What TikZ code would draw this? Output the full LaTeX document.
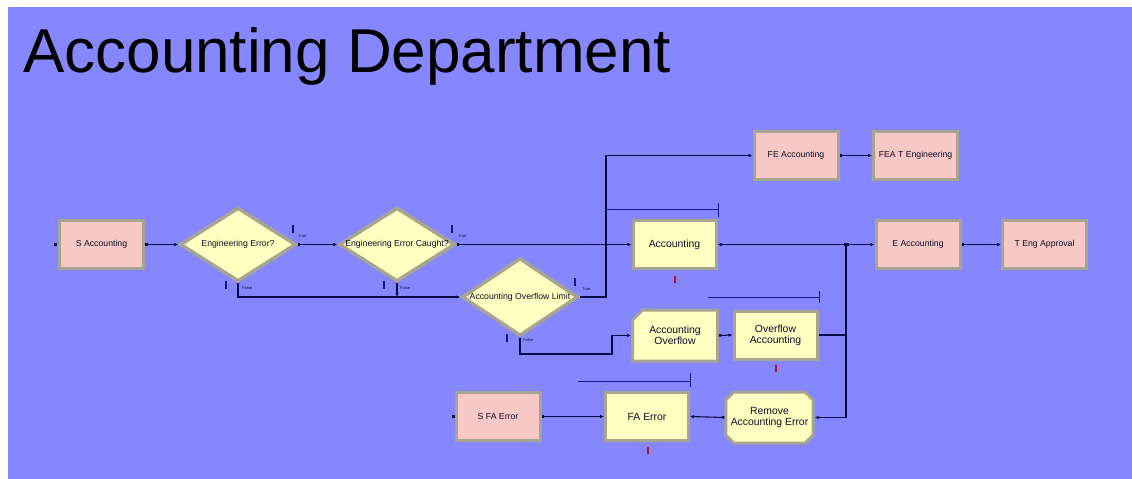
\documentclass[tikz,border=0pt]{standalone}
\usepackage{fontspec}
\setmainfont{Liberation Sans}
\usetikzlibrary{shapes.geometric,shapes.misc,arrows.meta}
\definecolor{bg}{RGB}{134,134,255}
\definecolor{pinkfill}{RGB}{248,200,198}
\definecolor{yelfill}{RGB}{255,255,194}
\definecolor{bordc}{RGB}{165,165,145}
\definecolor{linec}{RGB}{10,10,70}
\definecolor{queuec}{RGB}{20,20,150}
\definecolor{tickc}{RGB}{20,20,120}
\definecolor{redc}{RGB}{170,20,40}
\definecolor{txtc}{RGB}{15,15,35}
\tikzset{
  pinkbox/.style={rectangle, fill=pinkfill, draw=bordc, line width=3pt,
    minimum width=84pt, minimum height=48pt, inner sep=1pt, text=txtc,
    font=\fontsize{8.7}{10}\selectfont},
  yelbox/.style={rectangle, fill=yelfill, draw=bordc, line width=3pt,
    minimum width=83pt, minimum height=48pt, inner sep=1pt, text=txtc, align=center,
    font=\fontsize{10.4}{11}\selectfont},
  dia/.style={diamond, fill=yelfill, draw=bordc, line width=3.5pt, inner sep=0pt,
    minimum width=116pt, minimum height=74pt},
  dtext/.style={text=txtc, inner sep=0pt, font=\fontsize{8.7}{10}\selectfont},
  conn/.style={draw=linec, line width=1.1pt, {Square[length=2.5pt,width=2.5pt]}-{Latex[length=4pt,width=3.5pt]}},
  connf/.style={draw=linec, line width=1.1pt, {Latex[reversed,length=3.5pt,width=3.5pt]}-{Latex[length=4pt,width=3.5pt]}},
  connj/.style={draw=linec, line width=1.1pt, {Square[length=2.5pt,width=2.5pt]}-},
  queue/.style={draw=queuec, line width=1pt},
  tlabel/.style={text=linec, inner sep=0pt, anchor=west, font=\fontsize{4}{4}\selectfont},
}
\newcommand{\bluetick}[2]{\fill[tickc] (#1-1.2,#2-4) rectangle (#1+1.2,#2+4);}
\newcommand{\redtick}[2]{\fill[redc] (#1-1.2,#2-3.5) rectangle (#1+1.2,#2+3.5);}
\begin{document}
\begin{tikzpicture}[x=1pt,y=-1pt]
\useasboundingbox (0,0) rectangle (1132,479);
\fill[white] (0,0) rectangle (1132,479);
\fill[bg] (8,7) rectangle (1132,479);

\node[anchor=base west, inner sep=0pt, font=\fontsize{62}{62}\selectfont] (title) at (23,72) {Accounting Department};

% nodes
\node[pinkbox] (sa) at (101.5,244.5) {S Accounting};
\node[dia] (d1) at (238,244.5) {};
\node[dtext] (d1t) at (d1) {Engineering Error?};
\node[dia] (d2) at (397,244.5) {};
\node[dtext] (d2t) at (d2) {Engineering Error Caught?};
\node[dia, minimum height=78pt] (d3) at (520,297) {};
\node[dtext] (d3t) at (d3) {Accounting Overflow Limit};
\node[yelbox] (acc) at (674.5,244.5) {Accounting};
\node[pinkbox] (fe) at (796,155.5) {FE Accounting};
\node[pinkbox] (feat) at (915.5,155.5) {FEA T Engineering};
\node[pinkbox] (ea) at (918,244.5) {E Accounting};
\node[pinkbox] (tea) at (1044.5,244.5) {T Eng Approval};
\node[yelbox, chamfered rectangle, chamfered rectangle corners=north west,
  chamfered rectangle xsep=5pt, chamfered rectangle ysep=5pt,
  minimum width=85pt, minimum height=51pt] (aof) at (675,335.5) {Accounting\\Overflow};
\node[yelbox] (oa) at (775.5,335) {Overflow\\Accounting};
\node[pinkbox] (sfa) at (498,416.5) {S FA Error};
\node[yelbox] (fa) at (647,416.5) {FA Error};
\node[yelbox, chamfered rectangle, chamfered rectangle xsep=4pt, chamfered rectangle ysep=4pt,
  minimum width=86pt, minimum height=51pt] (rae) at (769.5,417.5) {Remove\\Accounting Error};

% connectors
\coordinate (jt) at (606,297);
\coordinate (jf) at (612,354);
\coordinate (jr) at (846,244.5);
\draw[conn] (sa.east) -- (d1.west);
\draw[conn] (d1.east) -- (d2.west);
\draw[conn] (d2.east) -- (acc.west);
\draw[connf] (d1.south) |- (d3.west);
\draw[connf] (d2.south) -- (d2.south |- d3.west);
\draw[conn] (d3.east) -- (jt) |- (fe.west);
\draw[conn] (fe.east) -- (feat.west);
\draw[connf] (d3.south) |- (jf) |- (aof.west);
\draw[conn] (aof.east) -- (oa.west);
\draw[connj] (oa.east) -- (oa.east -| jr);
\draw[conn] (jr) -- (acc.east);
\draw[conn] (jr) -- (ea.west);
\draw[conn] (jr) |- (rae.east);
\draw[conn] (ea.east) -- (tea.west);
\draw[conn] (sfa.east) -- (fa.west);
\draw[conn] (rae.west) -- (fa.east);

% entry marks
\fill[linec] (54,243) rectangle (57,246);
\fill[linec] (451.5,415) rectangle (454.5,418);

% queues
\draw[queue] (606,209) -- (718,209);
\draw[queue] (718,203) -- (718,217);
\draw[queue] (708,297) -- (819,297);
\draw[queue] (819,291) -- (819,303);
\draw[queue] (578,381) -- (690,381);
\draw[queue] (690,373) -- (690,387);

% blue ticks and labels
\bluetick{293}{229}
\node[tlabel] (l1) at (298,236) {True};
\bluetick{226}{285}
\node[tlabel] (l2) at (242,288) {False};
\bluetick{452}{229}
\node[tlabel] (l3) at (458,236) {True};
\bluetick{384}{285}
\node[tlabel] (l4) at (400,288) {False};
\bluetick{575}{282}
\node[tlabel] (l5) at (582,289) {True};
\bluetick{507}{338}
\node[tlabel] (l6) at (523,340) {False};

% red marks
\redtick{675}{279}
\redtick{776}{368}
\redtick{648}{450}
\end{tikzpicture}
\end{document}
